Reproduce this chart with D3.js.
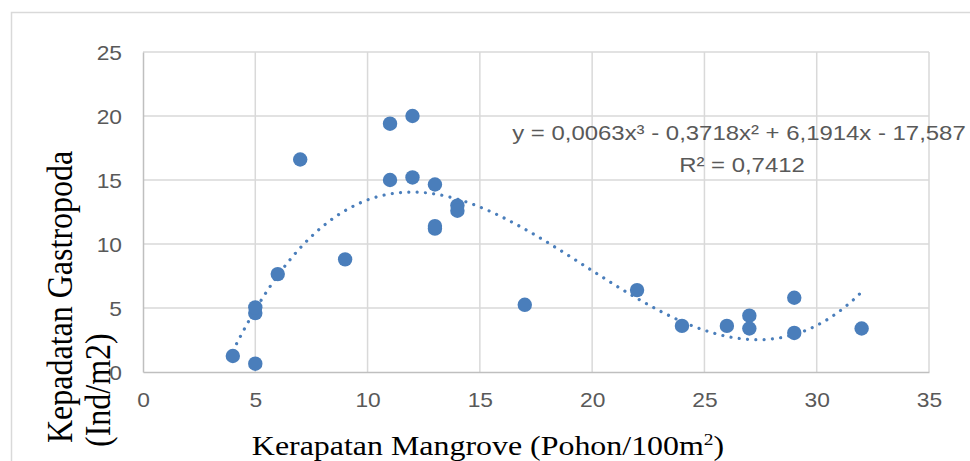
<!DOCTYPE html>
<meta charset="utf-8">
<style>
body { margin: 0; background: #fff; }
.tick text { font: 20px "Liberation Sans", Arial, sans-serif; fill: #595959; }
.title { font-family: "Liberation Serif", "Times New Roman", serif; fill: #000; }
.eq { font: 21px "Liberation Sans", Arial, sans-serif; fill: #595959; }
</style>
<svg width="970" height="461"></svg>
<script src="https://d3js.org/d3.v7.min.js"></script>
<script>

// data
var kerapatan = [4, 5, 5, 5, 6, 7, 9, 11, 11, 12, 12, 13, 13, 13, 14, 14, 17, 22, 24, 26, 27, 27, 29, 29, 32];
var kepadatan = [1.25, 0.65, 4.6, 5.05, 7.65, 16.6, 8.8, 19.4, 15.0, 20.0, 15.2, 14.65, 11.2, 11.4, 13.0, 12.6, 5.25, 6.4, 3.6, 3.6, 4.4, 3.4, 5.8, 3.05, 3.4];
// trendline coefficients as printed: a3, a2, a1, a0
var trendCoef = [0.0063, -0.3718, 6.1914, -17.587];
var trendRange = [4, 32];
var xTicks = [0, 5, 10, 15, 20, 25, 30, 35];
var yTicks = [0, 5, 10, 15, 20, 25];

// the source picture is stretched sideways, text included
var sx = 1.14;

var svg = d3.select("svg"),
    margin = {left: 143, right: 41, top: 52, bottom: 89},
    width = +svg.attr("width") - margin.left - margin.right,
    height = +svg.attr("height") - margin.top - margin.bottom;

// chart area border
svg.append("rect")
    .attr("x", 11.5).attr("y", 12.5)
    .attr("width", 1000).attr("height", 1000)
    .attr("fill", "none").attr("stroke", "#d9d9d9").attr("stroke-width", 1.5);

var x = d3.scaleLinear().domain([0, 35]).range([0, width]),
    y = d3.scaleLinear().domain([0, 25]).range([height, 0]);

var g = svg.append("g").attr("transform", "translate(" + margin.left + "," + margin.top + ")");

// gridlines
g.append("g").selectAll("line").data(xTicks.slice(1)).enter().append("line")
    .attr("x1", d => x(d)).attr("x2", d => x(d))
    .attr("y1", 0).attr("y2", height)
    .attr("stroke", "#d9d9d9").attr("stroke-width", 1.5);
g.append("g").selectAll("line").data(yTicks.slice(1)).enter().append("line")
    .attr("x1", 0).attr("x2", width)
    .attr("y1", d => y(d)).attr("y2", d => y(d))
    .attr("stroke", "#d9d9d9").attr("stroke-width", 1.5);

// axes
var xAxis = g.append("g")
    .attr("transform", "translate(0," + height + ")")
    .call(d3.axisBottom(x).tickValues(xTicks).tickSize(0).tickPadding(21));
var yAxis = g.append("g")
    .call(d3.axisLeft(y).tickValues(yTicks).tickSize(0));
xAxis.select(".domain").attr("stroke", "#bfbfbf").attr("stroke-width", 1.5);
yAxis.select(".domain").attr("stroke", "#bfbfbf").attr("stroke-width", 1.5);
xAxis.selectAll(".tick text").attr("dy", "0.71em").attr("transform", "scale(" + sx + ",1)");
yAxis.selectAll(".tick text").attr("dy", "0.35em")
    .attr("x", -21 / sx)
    .attr("transform", "scale(" + sx + ",1)");

// trendline from the printed polynomial
var trendPts = d3.range(trendRange[0], trendRange[1] + 0.001, 0.2).map(function(v) {
  var yv = trendCoef[0] * v * v * v + trendCoef[1] * v * v + trendCoef[2] * v + trendCoef[3];
  return [v, yv];
});
g.append("path")
    .datum(trendPts)
    .attr("fill", "none")
    .attr("stroke", "#4a7ebb")
    .attr("stroke-width", 3.2)
    .attr("stroke-linecap", "round")
    .attr("stroke-dasharray", "0.01 8.3")
    .attr("d", d3.line().x(d => x(d[0])).y(d => y(d[1])));

// points
g.append("g").selectAll("circle").data(kerapatan).enter().append("circle")
    .attr("cx", d => x(d))
    .attr("cy", (d, i) => y(kepadatan[i]))
    .attr("r", 7.2)
    .attr("fill", "#4a7ebb");

// equation label
var eq = svg.append("text").attr("class", "eq").attr("text-anchor", "middle")
    .attr("transform", "scale(" + sx + ",1)");
eq.append("tspan").attr("x", 739 / sx).attr("y", 140).text("y = 0,0063x³ - 0,3718x² + 6,1914x - 17,587");
eq.append("tspan").attr("x", 742 / sx).attr("y", 172).text("R² = 0,7412");

// axis titles
var xt = svg.append("text").attr("class", "title")
    .attr("font-size", "28px")
    .attr("transform", "translate(488,455) scale(" + sx + ",1)")
    .attr("text-anchor", "middle");
xt.append("tspan").text("Kerapatan Mangrove (Pohon/100m");
xt.append("tspan").attr("font-size", "17px").attr("dy", "-10").text("2");
xt.append("tspan").attr("dy", "10").text(")");

var yt = svg.append("text").attr("class", "title")
    .attr("font-size", "32px")
    .attr("transform", "scale(" + sx + ",1) rotate(-90)")
    .attr("text-anchor", "start");
yt.append("tspan").attr("x", -443).attr("y", 72 / sx).text("Kepadatan Gastropoda");
yt.append("tspan").attr("x", -447).attr("y", 110 / sx).text("(Ind/m2)");

</script>
